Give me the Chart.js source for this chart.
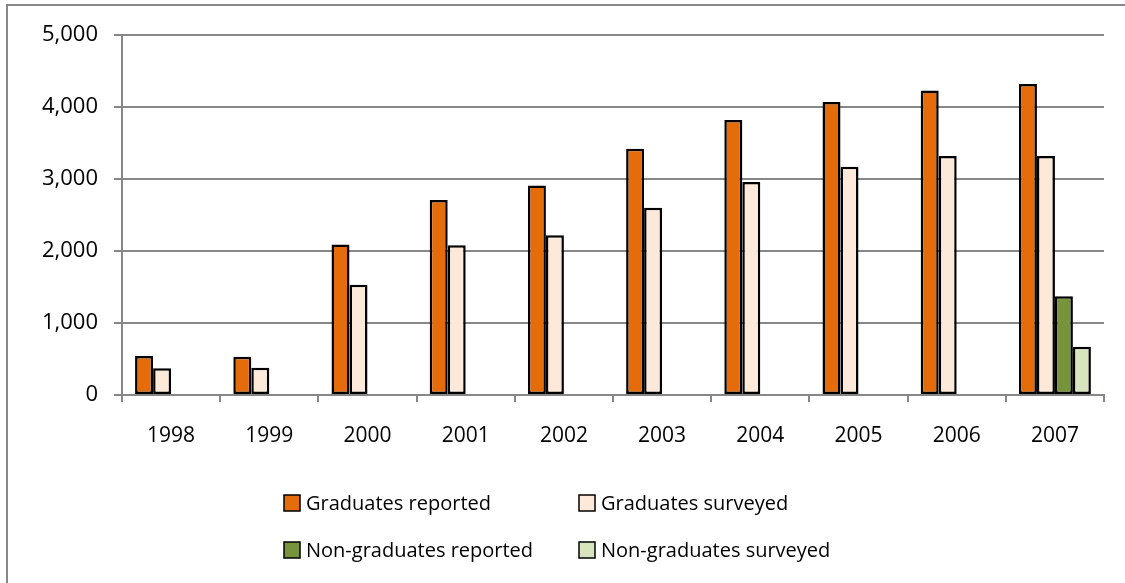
<!DOCTYPE html>
<html>
<head>
<meta charset="utf-8">
<script src="https://cdn.jsdelivr.net/npm/chart.js@4"></script>
<style>
  html, body { margin: 0; padding: 0; background: #fff; }
  #wrap { width: 1125px; height: 583px; }
</style>
</head>
<body>
<div id="wrap"><canvas id="c" width="1125" height="583"></canvas></div>
<script>
const years = ["1998", "1999", "2000", "2001", "2002", "2003", "2004", "2005", "2006", "2007"];
const gradReported = [540, 530, 2090, 2710, 2910, 3420, 3820, 4070, 4230, 4320];
const gradSurveyed = [370, 380, 1530, 2080, 2220, 2600, 2960, 3170, 3320, 3320];
const nonGradReported = [null, null, null, null, null, null, null, null, null, 1370];
const nonGradSurveyed = [null, null, null, null, null, null, null, null, null, 670];
const yTicks = [0, 1000, 2000, 3000, 4000, 5000];

const FONT = "'Open Sans', 'Noto Sans', sans-serif";
const gridGray = "#878787";

// legend in a fixed 2x2 grid, like the original
const gridLegend = {
  id: "gridLegend",
  afterDraw(chart) {
    const ctx = chart.ctx;
    const cols = [284, 579];
    const rows = [503, 550];
    ctx.save();
    chart.data.datasets.forEach((ds, i) => {
      const x = cols[i % 2];
      const y = rows[Math.floor(i / 2)];
      ctx.fillStyle = ds.backgroundColor;
      ctx.fillRect(x, y - 8, 16, 16);
      ctx.strokeStyle = "#000";
      ctx.lineWidth = 1.5;
      ctx.strokeRect(x, y - 8, 16, 16);
      ctx.fillStyle = "#000";
      ctx.font = "20px " + FONT;
      ctx.textBaseline = "middle";
      ctx.textAlign = "left";
      ctx.fillText(ds.label, x + 22, y + 1);
    });
    ctx.restore();
  }
};

// only the left and top edges of the frame are in the picture
const outerBorder = {
  id: "outerBorder",
  afterDraw(chart) {
    const ctx = chart.ctx;
    ctx.save();
    ctx.strokeStyle = gridGray;
    ctx.lineWidth = 2;
    ctx.beginPath();
    ctx.moveTo(7, 583);
    ctx.lineTo(7, 5);
    ctx.lineTo(1125, 5);
    ctx.stroke();
    ctx.restore();
  }
};

const barStyle = {
  borderColor: "#000",
  borderWidth: 2.5,
  borderSkipped: false,
  categoryPercentage: 0.733,
  barPercentage: 1
};

new Chart(document.getElementById("c"), {
  type: "bar",
  data: {
    labels: years,
    datasets: [
      Object.assign({ label: "Graduates reported", data: gradReported, backgroundColor: "#E46C0A" }, barStyle),
      Object.assign({ label: "Graduates surveyed", data: gradSurveyed, backgroundColor: "#FDE9D9" }, barStyle),
      Object.assign({ label: "Non-graduates reported", data: nonGradReported, backgroundColor: "#77933C" }, barStyle),
      Object.assign({ label: "Non-graduates surveyed", data: nonGradSurveyed, backgroundColor: "#D7E4BD" }, barStyle)
    ]
  },
  options: {
    responsive: false,
    animation: false,
    layout: { padding: { top: 35, right: 21, left: 0, bottom: 0 } },
    plugins: {
      legend: { display: false },
      tooltip: { enabled: false }
    },
    scales: {
      x: {
        grid: { drawOnChartArea: false, drawTicks: true, tickLength: 7, color: gridGray, lineWidth: 2 },
        border: { color: gridGray, width: 2 },
        ticks: { color: "#000", font: { family: FONT, size: 21 }, padding: 21 },
        afterFit(scale) { scale.height = 583 - 395; }
      },
      y: {
        min: 0,
        max: 5000,
        afterBuildTicks(scale) { scale.ticks = yTicks.map(v => ({ value: v })); },
        grid: { color: gridGray, lineWidth: 2, tickLength: 8 },
        border: { color: gridGray, width: 2 },
        ticks: {
          color: "#000",
          font: { family: FONT, size: 22 },
          padding: 16,
          callback: v => v.toLocaleString("en-US")
        },
        afterFit(scale) { scale.width = 122; }
      }
    }
  },
  plugins: [gridLegend, outerBorder]
});
</script>
</body>
</html>
